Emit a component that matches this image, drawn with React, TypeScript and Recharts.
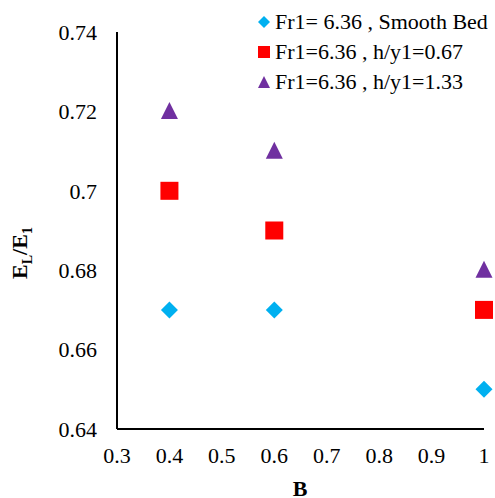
import React from "react";
import { ScatterChart, Scatter, XAxis, YAxis, Label } from "recharts";

const xValues = [0.4, 0.6, 1];
const smoothBed = [0.67, 0.67, 0.65];
const hy067 = [0.7, 0.69, 0.67];
const hy133 = [0.72, 0.71, 0.68];
const xTicks = [0.3, 0.4, 0.5, 0.6, 0.7, 0.8, 0.9, 1];
const yTicks = [0.64, 0.66, 0.68, 0.7, 0.72, 0.74];
const seriesNames = ["Fr1= 6.36 , Smooth Bed", "Fr1=6.36 , h/y1=0.67", "Fr1=6.36 , h/y1=1.33"];
const seriesColors = ["#00B0F0", "#FF0000", "#7030A0"];

const toPoints = (ys: number[]) => xValues.map((x, i) => ({ x, y: ys[i] }));

const FONT = "'Liberation Serif', 'Times New Roman', serif";

const Diamond = (p: any) => {
  const { cx, cy } = p;
  const r = 8.5;
  return <polygon points={`${cx},${cy - r} ${cx + r},${cy} ${cx},${cy + r} ${cx - r},${cy}`} fill={seriesColors[0]} />;
};
const Square = (p: any) => {
  const { cx, cy } = p;
  const s = 18;
  return <rect x={cx - s / 2} y={cy - s / 2} width={s} height={s} fill={seriesColors[1]} />;
};
const Triangle = (p: any) => {
  const { cx, cy } = p;
  const w = 17;
  const h = 17;
  return <polygon points={`${cx},${cy - h * 0.55} ${cx + w / 2},${cy + h * 0.45} ${cx - w / 2},${cy + h * 0.45}`} fill={seriesColors[2]} />;
};

const legendIcon = (i: number) => {
  if (i === 0) return <polygon points="6,0 12,6 6,12 0,6" fill={seriesColors[0]} />;
  if (i === 1) return <rect x={0} y={0} width={12} height={12} fill={seriesColors[1]} />;
  return <polygon points="6,0 12,12 0,12" fill={seriesColors[2]} />;
};

const LegendBox = () => (
  <div
    style={{
      position: "absolute",
      top: 7,
      left: 257,
      fontFamily: FONT,
      fontSize: 22,
      color: "#000",
      lineHeight: "30px",
    }}
  >
    {seriesNames.map((n, i) => (
      <div key={n} style={{ display: "flex", alignItems: "center", whiteSpace: "nowrap", height: 30 }}>
        <svg width={14} height={14} style={{ marginRight: 4 }}>
          <g transform="translate(1,1)">{legendIcon(i)}</g>
        </svg>
        <span>{n}</span>
      </div>
    ))}
  </div>
);

const YLabel = () => (
  <text
    transform="translate(27,253) rotate(-90)"
    textAnchor="middle"
    fontFamily={FONT}
    fontWeight="bold"
    fontSize={22}
    fill="#000"
  >
    E<tspan fontSize={14} dy={5}>L</tspan>
    <tspan dy={-5}>/E</tspan>
    <tspan fontSize={14} dy={5}>1</tspan>
  </text>
);

const XLabel = () => (
  <text x={300} y={496} textAnchor="middle" fontFamily={FONT} fontWeight="bold" fontSize={22} fill="#000">
    B
  </text>
);

export default function App() {
  return (
    <div style={{ position: "absolute", left: 0, top: 0, width: 495, height: 498, background: "#fff", fontFamily: FONT }}>
      <ScatterChart width={495} height={498} margin={{ top: 32, right: 11, left: 0, bottom: 0 }}>
        <XAxis
          type="number"
          dataKey="x"
          domain={[0.3, 1]}
          ticks={xTicks}
          tickLine={false}
          tickSize={0}
          tickMargin={18}
          height={69}
          axisLine={{ stroke: "#000", strokeWidth: 2 }}
          tick={{ fill: "#000", fontSize: 22, fontFamily: FONT }}
          tickFormatter={(v: number) => String(v)}
          interval={0}
        >
          <Label content={<XLabel />} />
        </XAxis>
        <YAxis
          type="number"
          dataKey="y"
          domain={[0.64, 0.74]}
          ticks={yTicks}
          tickLine={false}
          tickSize={0}
          tickMargin={20}
          width={117}
          axisLine={{ stroke: "#000", strokeWidth: 2 }}
          tick={{ fill: "#000", fontSize: 22, fontFamily: FONT }}
          tickFormatter={(v: number) => String(v)}
          interval={0}
        >
          <Label content={<YLabel />} />
        </YAxis>
        <Scatter name={seriesNames[0]} data={toPoints(smoothBed)} shape={<Diamond />} isAnimationActive={false} />
        <Scatter name={seriesNames[1]} data={toPoints(hy067)} shape={<Square />} isAnimationActive={false} />
        <Scatter name={seriesNames[2]} data={toPoints(hy133)} shape={<Triangle />} isAnimationActive={false} />
      </ScatterChart>
      <LegendBox />
    </div>
  );
}
